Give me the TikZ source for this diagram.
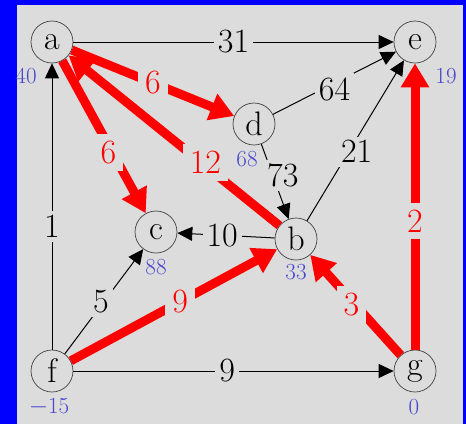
\documentclass[tikz,border=0pt]{standalone}
\usetikzlibrary{arrows.meta}
\definecolor{panel}{RGB}{220,220,220}
\definecolor{frame}{RGB}{0,0,255}
\definecolor{distblue}{RGB}{70,70,205}

\begin{document}
\begin{tikzpicture}[x=1pt,y=-1pt,
    vert/.style={draw=black!75,circle,line width=0.7pt,minimum size=42pt,inner sep=0pt,font=\fontsize{34}{34}\selectfont},
    dist/.style={text=distblue,inner sep=0pt,font=\fontsize{23}{23}\selectfont},
    wt/.style={fill=panel,inner sep=4pt,font=\fontsize{34}{34}\selectfont},
    edge/.style={line width=1pt,-{Triangle[length=15pt,width=14pt]}},
    tree/.style={red,line width=9pt,-{Triangle[length=24pt,width=27pt]}}
  ]
  \fill[frame] (0,0) rectangle (466,424);
  \fill[panel] (17,5) rectangle (463,424);

  % vertices
  \node[vert] (a) at (52,42) {a};
  \node[vert] (e) at (415,42) {e};
  \node[vert] (d) at (254,124) {d};
  \node[vert] (c) at (156,232) {c};
  \node[vert] (b) at (296,239) {b};
  \node[vert] (f) at (52,371) {f};
  \node[vert] (g) at (415,371) {g};

  % distances from g
  \node[dist] (da) at (26,76) {40};
  \node[dist] (de) at (446,76) {19};
  \node[dist] (dd) at (247,159) {68};
  \node[dist] (dc) at (156,267) {88};
  \node[dist] (db) at (296,272) {33};
  \node[dist] (df) at (49,407) {$-$15};
  \node[dist] (dg) at (414,407) {0};

  % other edges
  \draw[edge] (a) -- node[wt,pos=.5] {31} (e);
  \draw[edge] (d) -- node[wt,pos=.5,yshift=-6pt] {64} (e);
  \draw[edge] (d) -- node[wt,pos=.42,xshift=10pt] {73} (b);
  \draw[edge] (b) -- node[wt,pos=.43,xshift=8pt] {21} (e);
  \draw[edge] (b) -- node[wt,pos=.54] {10} (c);
  \draw[edge] (f) -- node[wt,pos=.43] {1} (a);
  \draw[edge] (f) -- node[wt,pos=.5,xshift=-3pt] {5} (c);
  \draw[edge] (f) -- node[wt,pos=.48] {9} (g);

  % shortest path tree
  \draw[tree] (a) -- node[wt,text=red,pos=.5,inner sep=7pt] {6} (d);
  \draw[tree] (a) -- node[wt,text=red,pos=.6,xshift=-4pt,inner sep=7pt] {6} (c);
  \draw[tree] (b) -- node[wt,text=red,pos=.37,xshift=4pt,inner sep=7pt] {12} (a);
  \draw[tree] (f) -- node[wt,text=red,pos=.53,inner sep=7pt] {9} (b);
  \draw[tree] (g) -- node[wt,text=red,pos=.5,xshift=-4pt,inner sep=7pt] {3} (b);
  \draw[tree] (g) -- node[wt,text=red,pos=.45,inner sep=7pt] {2} (e);
\end{tikzpicture}
\end{document}
